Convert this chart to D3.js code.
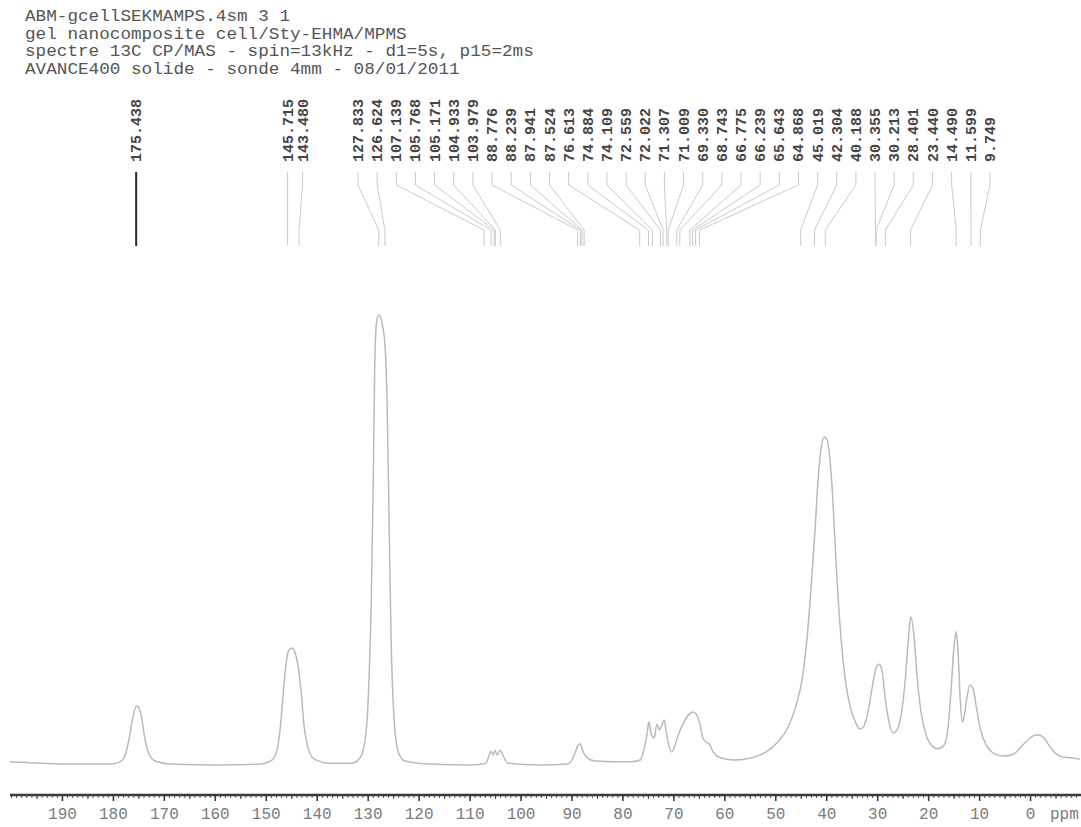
<!DOCTYPE html>
<html>
<head>
<meta charset="utf-8">
<script src="https://cdn.jsdelivr.net/npm/d3@7"></script>
<style>
  html, body { margin: 0; padding: 0; background: #fff; }
  svg { display: block; }
</style>
</head>
<body>
<svg id="chart" width="1081" height="827"></svg>
<script>
// ---------------- data ----------------
const headerLines = [
  "ABM-gcellSEKMAMPS.4sm 3 1",
  "gel nanocomposite cell/Sty-EHMA/MPMS",
  "spectre 13C CP/MAS - spin=13kHz - d1=5s, p15=2ms",
  "AVANCE400 solide - sonde 4mm - 08/01/2011"
];

const peakLabels = [
  "175.438", "145.715", "143.480", "127.833", "126.624", "107.139", "105.768",
  "105.171", "104.933", "103.979", "88.776", "88.239", "87.941", "87.524",
  "76.613", "74.884", "74.109", "72.559", "72.022", "71.307", "71.009",
  "69.330", "68.743", "66.775", "66.239", "65.643", "64.868", "45.019",
  "42.304", "40.188", "30.355", "30.213", "28.401", "23.440", "14.490",
  "11.599", "9.749"
];

const xTickValues = [190, 180, 170, 160, 150, 140, 130, 120, 110, 100, 90, 80, 70, 60, 50, 40, 30, 20, 10, 0];
const xUnitLabel = "ppm";

// spectrum (chemical shift in ppm, relative intensity)
const specPpm = [
  200.2, 194.3, 186.5, 180.6, 178.6, 177.6, 176.8, 176.2, 175.7, 175.3,
  174.9, 174.3, 173.7, 172.9, 171.7, 168.8, 159.0, 151.1, 148.8, 147.8,
  147.2, 146.6, 146.0, 145.4, 144.8, 144.3, 143.7, 143.1, 142.5, 141.7,
  140.5, 137.4, 133.1, 131.5, 130.5, 129.9, 129.3, 128.9, 128.6, 128.2,
  127.8, 127.4, 127.0, 126.6, 126.2, 125.8, 125.4, 124.8, 124.0, 122.7,
  117.8, 109.9, 106.8, 106.2, 105.8, 105.4, 105.0, 104.6, 104.0, 103.4,
  102.5, 96.2, 90.7, 89.7, 89.1, 88.7, 88.3, 87.7, 86.9, 85.4,
  78.5, 76.5, 75.8, 75.2, 74.8, 74.4, 73.8, 73.2, 72.8, 72.2,
  71.8, 71.4, 70.9, 70.3, 69.7, 68.9, 67.9, 66.9, 66.1, 65.4,
  64.8, 64.2, 63.6, 63.0, 62.2, 60.8, 57.9, 54.6, 51.8, 49.5,
  47.5, 45.9, 44.7, 43.8, 43.0, 42.2, 41.6, 41.0, 40.4, 39.8,
  39.3, 38.7, 38.1, 37.3, 36.3, 35.3, 34.3, 33.4, 32.6, 31.8,
  31.0, 30.2, 29.6, 29.0, 28.5, 27.7, 26.9, 26.1, 25.3, 24.5,
  23.9, 23.4, 22.8, 22.2, 21.4, 20.4, 19.2, 18.1, 16.9, 16.1,
  15.5, 14.9, 14.5, 14.1, 13.7, 13.3, 13.0, 12.4, 11.8, 11.2,
  10.6, 9.8, 8.6, 7.3, 5.3, 3.3, 1.6, 0.0, -1.4, -2.6,
  -3.7, -4.9, -6.3, -7.9, -9.8
];
const specInt = [
  0.7, 0.4, 0.2, 0.2, 0.7, 2.2, 6.0, 10.0, 12.4, 13.1,
  12.7, 10.0, 5.6, 2.4, 0.9, 0.2, 0.0, 0.2, 1.1, 3.3,
  7.8, 15.6, 22.7, 25.6, 26.0, 25.1, 22.2, 16.7, 8.9, 3.8,
  1.3, 0.4, 0.4, 1.6, 5.6, 14.4, 36.7, 63.3, 90.0, 98.9,
  100.0, 99.3, 97.1, 93.3, 81.1, 54.4, 27.8, 10.0, 2.9, 0.9,
  0.2, 0.0, 0.4, 2.0, 3.1, 2.2, 3.3, 2.2, 3.3, 2.0,
  0.4, 0.0, 0.2, 1.6, 3.3, 4.4, 4.7, 2.9, 1.6, 0.9,
  0.7, 1.1, 3.3, 6.7, 9.6, 7.1, 6.0, 9.1, 7.8, 9.1,
  10.0, 7.3, 4.4, 2.9, 4.4, 7.1, 9.6, 11.3, 11.8, 11.1,
  9.1, 6.0, 5.1, 4.7, 2.9, 1.6, 1.1, 1.6, 2.9, 5.1,
  8.4, 13.3, 19.3, 27.8, 38.9, 52.2, 63.3, 70.4, 72.9, 72.2,
  68.2, 58.9, 45.6, 31.1, 19.3, 12.9, 9.6, 8.0, 8.7, 11.8,
  17.1, 21.6, 22.4, 20.7, 15.6, 9.6, 7.1, 7.8, 11.1, 18.9,
  27.8, 32.9, 28.9, 20.0, 11.8, 6.7, 4.2, 3.6, 4.4, 8.2,
  16.7, 26.7, 29.6, 24.4, 14.4, 9.6, 10.4, 14.9, 17.8, 17.1,
  13.3, 8.2, 4.4, 2.7, 2.0, 2.4, 4.2, 6.0, 6.7, 6.2,
  4.4, 2.7, 1.8, 1.6, 1.3
];

// ---------------- layout ----------------
const svg = d3.select("#chart");
const monoFont = "Liberation Mono, DejaVu Sans Mono, monospace";

const x = d3.scaleLinear().domain([200.2, -10]).range([10, 1081]);
const y = d3.scaleLinear().domain([0, 100]).range([765, 315]);

// header
svg.append("g")
  .selectAll("text")
  .data(headerLines)
  .join("text")
  .attr("x", 25)
  .attr("y", (d, i) => 21 + i * 17.5)
  .attr("font-family", monoFont)
  .attr("font-size", 16)
  .attr("textLength", d => d.length * 10.6)
  .attr("lengthAdjust", "spacingAndGlyphs")
  .attr("fill", "#555")
  .text(d => d);

// peak labels
const labelTextX = (d, i) => {
  if (i < 2) return x(+d);
  if (i === 2) return Math.max(x(+d), x(+peakLabels[1]) + 15);
  return 358 + (i - 3) * 19.15;
};

const labG = svg.append("g");
labG.selectAll("text")
  .data(peakLabels)
  .join("text")
  .attr("transform", (d, i) => `translate(${labelTextX(d, i) + 5},162) rotate(-90)`)
  .attr("font-family", monoFont)
  .attr("font-size", 15)
  .attr("font-weight", "bold")
  .attr("fill", "#454545")
  .text(d => d);

labG.selectAll("path")
  .data(peakLabels)
  .join("path")
  .attr("d", (d, i) => {
    const tx = labelTextX(d, i), px = x(+d);
    return `M${tx},172 V185 L${px},230 V246`;
  })
  .attr("fill", "none")
  .attr("stroke", (d, i) => i === 0 ? "#2a2a2a" : "#cacaca")
  .attr("stroke-width", (d, i) => i === 0 ? 2 : 1);

// spectrum
const pts = specPpm.map((p, i) => [p, specInt[i]]);
svg.append("path")
  .datum(pts)
  .attr("d", d3.line().x(d => x(d[0])).y(d => y(d[1])).curve(d3.curveMonotoneX))
  .attr("fill", "none")
  .attr("stroke", "#bababa")
  .attr("stroke-width", 1.5);

// axis
const axisY = 795;
const axG = svg.append("g").attr("transform", `translate(0,${axisY})`);
axG.call(d3.axisBottom(x).tickValues(d3.range(-9, 201, 1)).tickSize(3).tickFormat(""))
  .call(g => g.select(".domain").remove())
  .call(g => g.selectAll("line").attr("stroke", "#555"));
const axG5 = svg.append("g").attr("transform", `translate(0,${axisY})`);
axG5.call(d3.axisBottom(x).tickValues(d3.range(-5, 201, 10)).tickSize(4).tickFormat(""))
  .call(g => g.select(".domain").remove())
  .call(g => g.selectAll("line").attr("stroke", "#444"));
const axMaj = svg.append("g").attr("transform", `translate(0,${axisY})`);
axMaj.call(d3.axisBottom(x).tickValues(xTickValues).tickSize(6).tickPadding(7).tickFormat(d3.format("d")))
  .call(g => g.select(".domain").remove())
  .call(g => g.selectAll("line").attr("stroke", "#333").attr("stroke-width", 1.5))
  .call(g => g.selectAll("text")
    .attr("font-family", monoFont)
    .attr("font-size", 16)
    .attr("fill", "#7a7a7a"));
svg.append("line")
  .attr("x1", 10).attr("x2", 1081)
  .attr("y1", axisY).attr("y2", axisY)
  .attr("stroke", "#3a3a3a").attr("stroke-width", 2.5);

svg.append("text")
  .attr("x", 1050).attr("y", axisY + 13).attr("dy", "0.71em")
  .attr("font-family", monoFont)
  .attr("font-size", 16)
  .attr("fill", "#7a7a7a")
  .text(xUnitLabel);
</script>
</body>
</html>
